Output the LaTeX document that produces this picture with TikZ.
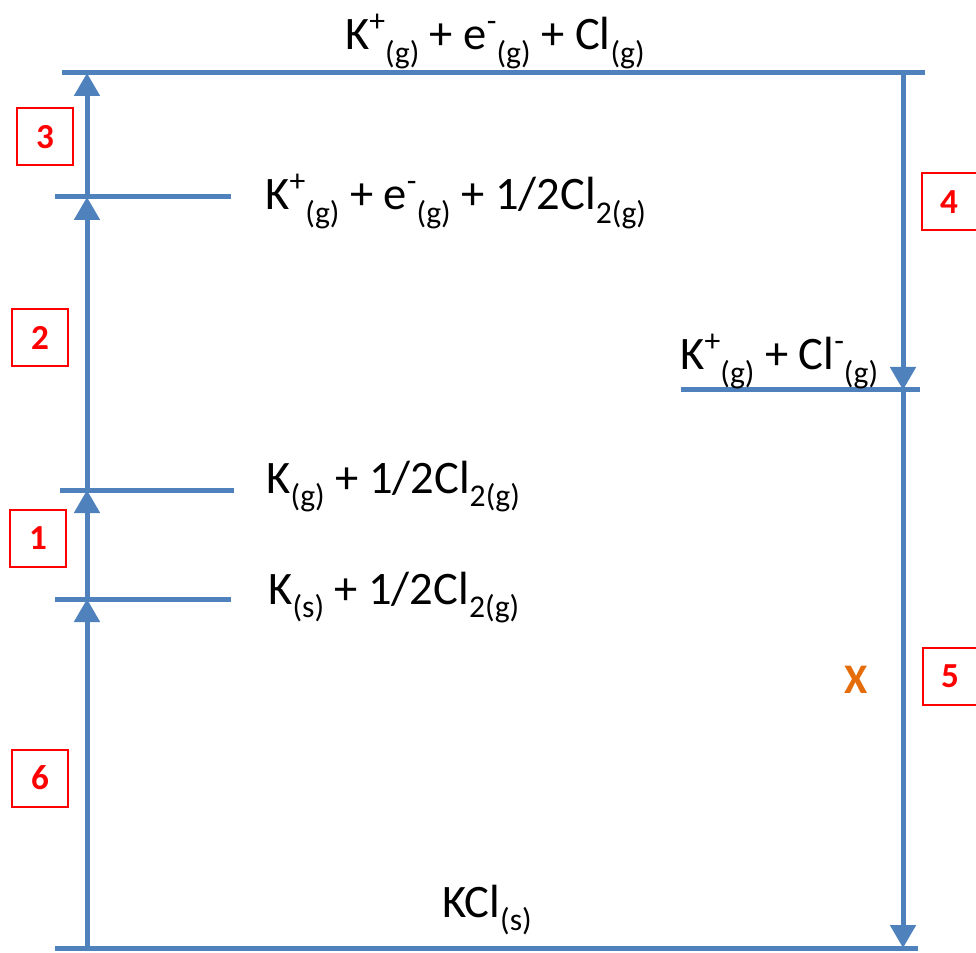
\documentclass[tikz,border=0pt]{standalone}
\usepackage{fontspec}
\setmainfont{Carlito}
\usetikzlibrary{arrows.meta}
\definecolor{levelblue}{HTML}{4F81BD}
\definecolor{xorange}{HTML}{E46C0A}
\newcommand{\lsup}[1]{\raisebox{0.4em}{\fontsize{18}{18}\selectfont #1}}
\newcommand{\lsub}[1]{\raisebox{-0.3em}{\fontsize{18}{18}\selectfont #1}}
\tikzset{
	level/.style={levelblue, line width=1mm},
	stage/.style={levelblue, line width=1mm, -{Triangle[length=4.6mm,width=5mm]}},
	numbox/.style={draw=red, line width=0.4mm, text=red, font=\fontsize{20}{20}\selectfont\bfseries,
		minimum width=11mm, minimum height=11.4mm, inner sep=0pt},
	species/.style={font=\fontsize{26.5}{30}\selectfont, inner sep=0pt, anchor=base west},
}
\begin{document}
\begin{tikzpicture}[x=0.2mm, y=-0.2mm]
				\useasboundingbox (0,0) rectangle (976,953);
				% energy levels
				\draw[level] (62,73) -- (925,73);
				\draw[level] (55,197) -- (231,197);
				\draw[level] (681,390) -- (920,390);
				\draw[level] (60,490) -- (234,490);
				\draw[level] (55,599) -- (231,599);
				\draw[level] (55,948) -- (918,948);
				% points on the arrow columns
				\coordinate (top) at (87,73);
				\coordinate (atoms) at (87,197);
				\coordinate (gas) at (87,490);
				\coordinate (solid) at (87,599);
				\coordinate (base) at (87,948);
				\coordinate (topR) at (903,73);
				\coordinate (ions) at (903,390);
				\coordinate (baseR) at (903,948);
				% steps
				\draw[stage] (base) -- (solid);
				\draw[stage] (solid) -- (gas);
				\draw[stage] (gas) -- (atoms);
				\draw[stage] (atoms) -- (top);
				\draw[stage] (topR) -- (ions);
				\draw[stage] (ions) -- (baseR);
				% species
				\node[species, anchor=base] (lTop) at (495,50) {K\lsup{+}\lsub{(g)} + e\lsup{-}\lsub{(g)} + Cl\lsub{(g)}};
				\node[species] (lAtoms) at (265,210) {K\lsup{+}\lsub{(g)} + e\lsup{-}\lsub{(g)} + 1/2Cl\lsub{2(g)}};
				\node[species] (lIons) at (680,370) {K\lsup{+}\lsub{(g)} + Cl\lsup{-}\lsub{(g)}};
				\node[species] (lGas) at (266,493) {K\lsub{(g)} + 1/2Cl\lsub{2(g)}};
				\node[species] (lSolid) at (268,604) {K\lsub{(s)} + 1/2Cl\lsub{2(g)}};
				\node[species, anchor=base] (lKCl) at (487,917) {KCl\lsub{(s)}};
				% step numbers
				\node[numbox] (n3) at (45,137) {3};
				\node[numbox] (n2) at (40,338) {2};
				\node[numbox] (n1) at (38,538) {1};
				\node[numbox] (n6) at (40,778) {6};
				\node[numbox] (n4) at (949,202) {4};
				\node[numbox] (n5) at (950,676) {5};
				\node[text=xorange, font=\fontsize{24}{24}\selectfont\bfseries] (lx) at (856,680) {X};
\end{tikzpicture}
\end{document}
